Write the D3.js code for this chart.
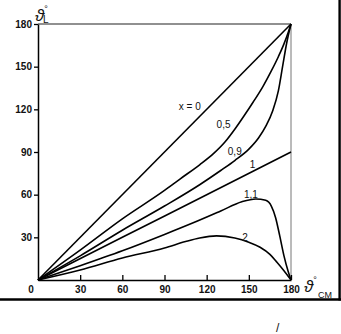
<!DOCTYPE html>
<html>
<head>
<meta charset="utf-8">
<script src="https://cdn.jsdelivr.net/npm/d3@7"></script>
<style>
  html, body { margin: 0; padding: 0; background: #fff; }
  svg { display: block; }
  text { font-family: "Liberation Sans", Arial, sans-serif; fill: #111; }
</style>
</head>
<body>
<svg id="chart" width="341" height="334"></svg>
<script>
// ---- data (angle in CM system -> angle in lab system, degrees) ----
const seriesNames = ["x = 0", "0,5", "0,9", "1", "1,1", "2"];
const curveX0  = [[0,0],[180,180]];
const curveX05 = [[0,0],[30,21],[60,43],[90,63],[101,71],[115,81],[125,89],[133,97],[140,106],[147,116],[153,125],[160,136],[166,147],[171,157],[175,166],[178,174],[180,180]];
const curveX09 = [[0,0],[30,17],[60,35],[90,52],[115,67],[130,77],[140,84],[150,92],[157,100],[162,108],[167,119],[171,133],[174,150],[177,167],[180,180]];
const curveX1  = [[0,0],[60,30],[120,60],[180,90]];
const curveX11 = [[0,0],[30,10],[60,20.5],[90,32],[110,40],[130,48.5],[145,55],[155,57],[162,56],[166,52],[169,44],[172,31],[175,17],[178,6],[180,0]];
const curveX2  = [[0,0],[30,7],[60,15.5],[90,22.5],[105,27],[115,29.5],[127,31],[140,29.5],[150,26.5],[158,23],[165,18],[170,12.5],[175,6.5],[180,0]];
const xTicks = [30, 60, 90, 120, 150, 180];
const yTicks = [30, 60, 90, 120, 150, 180];
// label anchor positions in data units (cm angle, lab angle)
const labelPos = [[108,119.5],[132,107],[140,88],[152.6,79],[151.5,57.5],[147.3,27.4]];

const svg = d3.select("#chart");
const x = d3.scaleLinear().domain([0, 180]).range([38, 291]);
const y = d3.scaleLinear().domain([0, 180]).range([280, 24]);

// outer border pieces (scan frame)
svg.append("line").attr("x1", 0).attr("x2", 341).attr("y1", 299.5).attr("y2", 299.5)
  .attr("stroke", "#000").attr("stroke-width", 2.4);
svg.append("line").attr("x1", 339.6).attr("x2", 339.6).attr("y1", 0).attr("y2", 300.5)
  .attr("stroke", "#000").attr("stroke-width", 2.4);

// frame top and right
svg.append("line").attr("x1", x(0)).attr("x2", x(180)).attr("y1", y(180)).attr("y2", y(180))
  .attr("stroke", "#222").attr("stroke-width", 1.2);
svg.append("line").attr("x1", x(180)).attr("x2", x(180)).attr("y1", y(180)).attr("y2", y(0))
  .attr("stroke", "#666").attr("stroke-width", 0.9);

// axes
const yAxis = d3.axisLeft(y).tickValues(yTicks).tickSizeInner(4).tickSizeOuter(0).tickPadding(2);
const gy = svg.append("g").attr("transform", `translate(${x(0)},0)`).call(yAxis);
const xAxis = d3.axisBottom(x).tickValues(xTicks).tickSizeInner(-5).tickSizeOuter(0).tickPadding(6);
const gx = svg.append("g").attr("transform", `translate(0,${y(0)})`).call(xAxis);
[gx, gy].forEach(g => {
  g.select(".domain").attr("stroke", "#000").attr("stroke-width", 1.5);
  g.selectAll(".tick line").attr("stroke", "#000").attr("stroke-width", 1.3);
  g.selectAll(".tick text").attr("font-size", 10).attr("font-weight", "bold")
    .attr("font-family", "Liberation Sans, Arial, sans-serif").attr("fill", "#111");
});
// origin label
svg.append("text").attr("x", 31).attr("y", 293).attr("text-anchor", "middle")
  .attr("font-size", 10).attr("font-weight", "bold").text("0");

// curves
const line = d3.line().x(d => x(d[0])).y(d => y(d[1])).curve(d3.curveMonotoneX);
const allCurves = [curveX0, curveX05, curveX09, curveX1, curveX11, curveX2];
svg.append("g").selectAll("path").data(allCurves).join("path")
  .attr("d", line).attr("fill", "none").attr("stroke", "#000")
  .attr("stroke-width", 1.6).attr("stroke-linejoin", "round");

// curve labels
svg.append("g").selectAll("text").data(seriesNames).join("text")
  .attr("x", (d, i) => x(labelPos[i][0])).attr("y", (d, i) => y(labelPos[i][1]))
  .attr("font-size", 10).attr("text-anchor", "middle").text(d => d);

// axis titles
const tL = svg.append("text").attr("x", 35).attr("y", 21).attr("font-size", 17)
  .attr("font-family", "DejaVu Serif, serif").attr("font-style", "italic");
tL.append("tspan").text("ϑ");
tL.append("tspan").attr("font-size", 9).attr("dy", -9).attr("font-style", "normal")
  .attr("font-family", "Liberation Sans, Arial, sans-serif").text("°");
tL.append("tspan").attr("font-size", 10).attr("dx", -5).attr("dy", 11).attr("font-style", "normal")
  .attr("font-family", "Liberation Sans, Arial, sans-serif").text("L");

const tC = svg.append("text").attr("x", 304).attr("y", 292).attr("font-size", 17)
  .attr("font-family", "DejaVu Serif, serif").attr("font-style", "italic");
tC.append("tspan").text("ϑ");
tC.append("tspan").attr("font-size", 9).attr("dy", -9).attr("font-style", "normal")
  .attr("font-family", "Liberation Sans, Arial, sans-serif").text("°");
svg.append("text").attr("x", 318).attr("y", 298).attr("font-size", 9).text("CM");

// stray scan mark
svg.append("text").attr("x", 276).attr("y", 332).attr("font-size", 12).text("/");
</script>
</body>
</html>
